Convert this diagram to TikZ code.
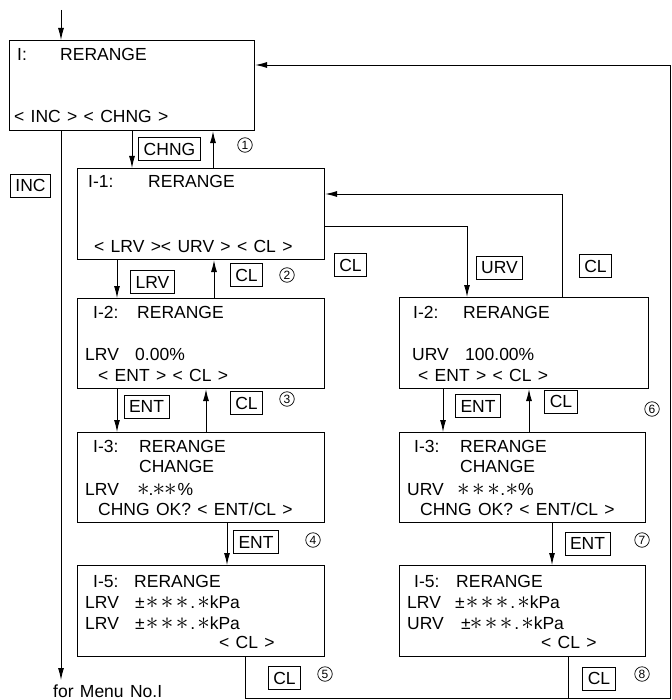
\documentclass[tikz,border=0pt]{standalone}
\usepackage{fontspec}
\setmainfont[WordSpace=1.3]{Liberation Sans}
\usetikzlibrary{arrows.meta}
\newcommand\fsz{\fontsize{17.5}{20}\selectfont}
\newcommand\sa{\scalebox{1.45}{$\ast$}}
\newcommand\sg{\kern2.5pt}
\begin{document}
\begin{tikzpicture}[x=1pt,y=-1pt,
 scr/.style={draw,line width=1.1pt,inner sep=0,anchor=north west},
 txt/.style={inner sep=0,anchor=base west,font=\fsz},
 lbl/.style={draw,line width=0.9pt,inner xsep=5pt,inner ysep=0,minimum height=23pt,font=\fsz},
 num/.style={circle,draw,line width=0.7pt,inner sep=0,minimum size=14.5pt,font=\fontsize{12}{12}\selectfont},
 arr/.style={line width=0.9pt,-{Latex[length=12pt,width=6pt]}},
 ln/.style={line width=0.9pt}]
\useasboundingbox (0,0) rectangle (671,700);
% screens
\node[scr,minimum width=245pt,minimum height=90pt] (I) at (9,40) {};
\node[scr,minimum width=247pt,minimum height=91pt] (I1) at (77,168) {};
\node[scr,minimum width=247pt,minimum height=90pt] (I2L) at (77,298) {};
\node[scr,minimum width=249pt,minimum height=91pt] (I2R) at (399,297) {};
\node[scr,minimum width=247pt,minimum height=90pt] (I3L) at (77,432) {};
\node[scr,minimum width=246pt,minimum height=90pt] (I3R) at (399,432) {};
\node[scr,minimum width=247pt,minimum height=91pt] (I5L) at (77,565) {};
\node[scr,minimum width=246pt,minimum height=91pt] (I5R) at (399,565) {};
% texts I
\node[txt] (tIa) at (17,61) {I:};
\node[txt] (tIb) at (60,61) {RERANGE};
\node[txt] (tIc) at (14,123) {< INC > < CHNG >};
% I-1
\node[txt] (t1a) at (88,188) {I-1:};
\node[txt] (t1b) at (148,188) {RERANGE};
\node[txt] (t1c) at (94,252) {< LRV >< URV > < CL >};
% I-2 left
\node[txt] (t2a) at (93,318) {I-2:};
\node[txt] (t2b) at (137,318) {RERANGE};
\node[txt] (t2c) at (85,360) {LRV};
\node[txt] (t2d) at (135,360) {0.00\%};
\node[txt] (t2e) at (98,381) {< ENT > < CL >};
% I-2 right
\node[txt] (t6a) at (413,318) {I-2:};
\node[txt] (t6b) at (463,318) {RERANGE};
\node[txt] (t6c) at (412,360) {URV};
\node[txt] (t6d) at (465,360) {100.00\%};
\node[txt] (t6e) at (418,381) {< ENT > < CL >};
% I-3 left
\node[txt] (t3a) at (93,452) {I-3:};
\node[txt] (t3b) at (139,452) {RERANGE};
\node[txt] (t3c) at (139,472) {CHANGE};
\node[txt] (t3d) at (85,495) {LRV};
\node[txt] (t3e) at (137,495) {\sa\kern-1pt.\kern-1pt\sa\kern-1pt\sa\kern1pt\%};
\node[txt] (t3f) at (98,515) {CHNG OK? < ENT/CL >};
% I-3 right
\node[txt] (t7a) at (414,452) {I-3:};
\node[txt] (t7b) at (460,452) {RERANGE};
\node[txt] (t7c) at (460,472) {CHANGE};
\node[txt] (t7d) at (407,495) {URV};
\node[txt] (t7e) at (457,495) {\sa\sg\sa\sg\sa\kern0.5pt.\kern0.5pt\sa\%};
\node[txt] (t7f) at (420,515) {CHNG OK? < ENT/CL >};
% I-5 left
\node[txt] (t5a) at (93,587) {I-5:};
\node[txt] (t5b) at (134,587) {RERANGE};
\node[txt] (t5c) at (85,608) {LRV};
\node[txt] (t5d) at (135,608) {±\kern1pt\sa\sg\sa\sg\sa\kern2pt.\kern2pt\sa kPa};
\node[txt] (t5e) at (85,629) {LRV};
\node[txt] (t5f) at (135,629) {±\kern1pt\sa\sg\sa\sg\sa\kern2pt.\kern2pt\sa kPa};
\node[txt] (t5g) at (219,648) {< CL >};
% I-5 right
\node[txt] (t8a) at (414,587) {I-5:};
\node[txt] (t8b) at (456,587) {RERANGE};
\node[txt] (t8c) at (407,608) {LRV};
\node[txt] (t8d) at (455,608) {±\kern1pt\sa\sg\sa\sg\sa\kern2pt.\kern2pt\sa kPa};
\node[txt] (t8e) at (407,629) {URV};
\node[txt] (t8f) at (461,629) {±\kern-1pt\sa\sg\sa\sg\sa\kern2pt.\kern2pt\sa kPa};
\node[txt] (t8g) at (541,648) {< CL >};
\node[txt] (menu) at (53,697) {for Menu No.I};
% key labels
\node[lbl] (kINC) at (30.5,185.5) {INC};
\node[lbl] (kCHNG) at (169.5,149) {CHNG};
\node[lbl] (kLRV) at (152.5,282) {LRV};
\node[lbl] (kCL2) at (246.5,275) {CL};
\node[lbl] (kCLm) at (350.5,265) {CL};
\node[lbl] (kURV) at (499.5,268) {URV};
\node[lbl] (kCLr) at (595.5,266) {CL};
\node[lbl] (kENT3) at (146.5,406.5) {ENT};
\node[lbl] (kCL3) at (246.5,403) {CL};
\node[lbl] (kENT6) at (478,406) {ENT};
\node[lbl] (kCL6) at (561,401.5) {CL};
\node[lbl] (kENT4) at (256,542) {ENT};
\node[lbl] (kENT7) at (587.5,543.5) {ENT};
\node[lbl] (kCL5) at (284.5,678) {CL};
\node[lbl] (kCL8) at (599,678.5) {CL};
% step numbers
\node[num] (n1) at (245,145) {1};
\node[num] (n2) at (287,275) {2};
\node[num] (n3) at (287,399) {3};
\node[num] (n4) at (313,540) {4};
\node[num] (n5) at (325,674) {5};
\node[num] (n6) at (652,409) {6};
\node[num] (n7) at (642,540) {7};
\node[num] (n8) at (642,674) {8};
% connectors
\coordinate (start) at (61,10);
\coordinate (menuin) at (61,680);
\draw[arr] (start) -- (61,0 |- I.north);
\draw[arr] (61,0 |- I.south) -- (menuin);
\draw[arr] (132,0 |- I.south) -- (132,0 |- I1.north);
\draw[arr] (213,0 |- I1.north) -- (213,0 |- I.south);
\draw[arr] (117,0 |- I1.south) -- (117,0 |- I2L.north);
\draw[arr] (214,0 |- I2L.north) -- (214,0 |- I1.south);
\draw[arr] (I1.east |- 0,226) -- (467,226) -- (467,0 |- I2R.north);
\draw[arr] (562,0 |- I2R.north) -- (562,194) -- (I1.east |- 0,194);
\draw[arr] (117,0 |- I2L.south) -- (117,0 |- I3L.north);
\draw[arr] (206,0 |- I3L.north) -- (206,0 |- I2L.south);
\draw[arr] (443,0 |- I2R.south) -- (443,0 |- I3R.north);
\draw[arr] (529,0 |- I3R.north) -- (529,0 |- I2R.south);
\draw[arr] (227,0 |- I3L.south) -- (227,0 |- I5L.north);
\draw[arr] (552,0 |- I3R.south) -- (552,0 |- I5R.north);
\draw[arr] (245,0 |- I5L.south) -- (245,698) -- (670,698) -- (670,65) -- (I.east |- 0,65);
\draw[ln] (568,0 |- I5R.south) -- (568,698);
\end{tikzpicture}
\end{document}
